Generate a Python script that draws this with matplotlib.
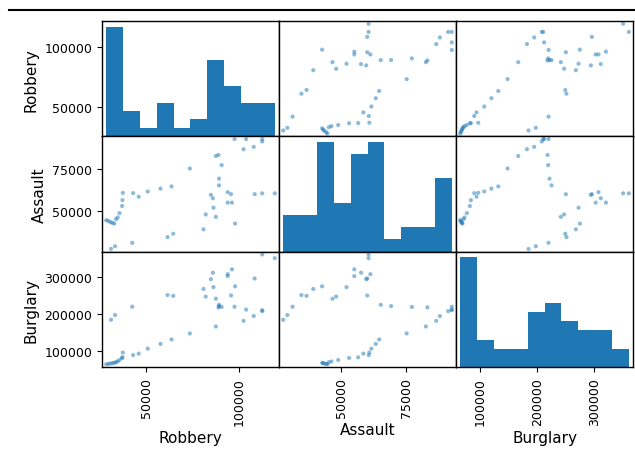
import numpy as np
import pandas as pd
import matplotlib
matplotlib.use('Agg')
import matplotlib.pyplot as plt
from matplotlib.lines import Line2D

# yearly crime counts
robbery = [28200, 29400, 30500, 31600, 32600, 33500, 34400, 35400, 36800, 37000, 37200,
           42800, 45800, 50700, 57600, 63600, 73500, 87600, 102600, 108100, 112700, 112700,
           104000, 97700, 89000, 90700, 89300, 89300, 95800, 86300, 87600, 82100, 80900,
           98000, 84900, 86000, 94000, 94000, 96300, 108600, 119500, 112700, 64500, 61400,
           42300, 33000, 30800]
assault = [44600, 44200, 43400, 43000, 42600, 45200, 46200, 48800, 53000, 56500, 60800,
           60600, 58500, 61600, 63300, 64600, 75200, 82600, 86600, 88000, 91200, 92600,
           92600, 92600, 83200, 77200, 69200, 65200, 60000, 52000, 46600, 48000, 39200,
           42600, 59600, 57600, 55000, 61200, 55000, 60000, 60500, 60500, 36600, 34600,
           31200, 29200, 27600]
burglary = [65500, 66500, 67500, 68500, 69500, 71000, 73000, 77000, 82400, 84100, 97000,
            90000, 94000, 107400, 120000, 132000, 148200, 166800, 182000, 194700, 208000, 210500,
            212000, 219800, 218000, 219200, 221500, 225000, 250000, 272200, 241300, 247000, 267500,
            274500, 293700, 311000, 302000, 307000, 320000, 295500, 350000, 360000, 249000, 251000,
            219800, 197600, 184800]

columns = ['Robbery', 'Assault', 'Burglary']
tick_values = {'Robbery': [50000, 100000],
               'Assault': [50000, 75000],
               'Burglary': [100000, 200000, 300000]}

df = pd.DataFrame({'Robbery': robbery, 'Assault': assault, 'Burglary': burglary})

axes = pd.plotting.scatter_matrix(df, figsize=(6.35, 4.52), alpha=0.5)
fig = plt.gcf()
fig.subplots_adjust(left=0.1606, right=0.9969, bottom=0.1858, top=0.9513,
                    wspace=0, hspace=0)

n = len(columns)
for i in range(n):
    for j in range(n):
        ax = axes[i, j]
        ax.set_xticks(tick_values[columns[j]])
        if i != j:
            ax.set_yticks(tick_values[columns[i]])
        ax.tick_params(axis='x', labelsize=9, labelrotation=90)
        ax.tick_params(axis='y', labelsize=9, labelrotation=0)
        ax.xaxis.label.set_size(11)
        ax.yaxis.label.set_size(11)
        for s in ax.spines.values():
            s.set_linewidth(1.0)

# map the Robbery ticks onto the histogram's count axis (top-left cell)
lim1 = axes[0, 1].get_ylim()
lim0 = axes[0, 0].get_ylim()
locs = np.array(tick_values['Robbery'])
adj = (locs - lim1[0]) / (lim1[1] - lim1[0]) * (lim0[1] - lim0[0]) + lim0[0]
axes[0, 0].set_yticks(adj)
axes[0, 0].set_yticklabels(locs)
axes[0, 0].tick_params(axis='y', labelsize=9, labelrotation=0)

# black rule across the top of the screenshot
fig.add_artist(Line2D([9 / 635, 1], [1 - 10.5 / 452] * 2, color='black', lw=1.5,
                      transform=fig.transFigure))

plt.savefig('out.png', dpi=100)
